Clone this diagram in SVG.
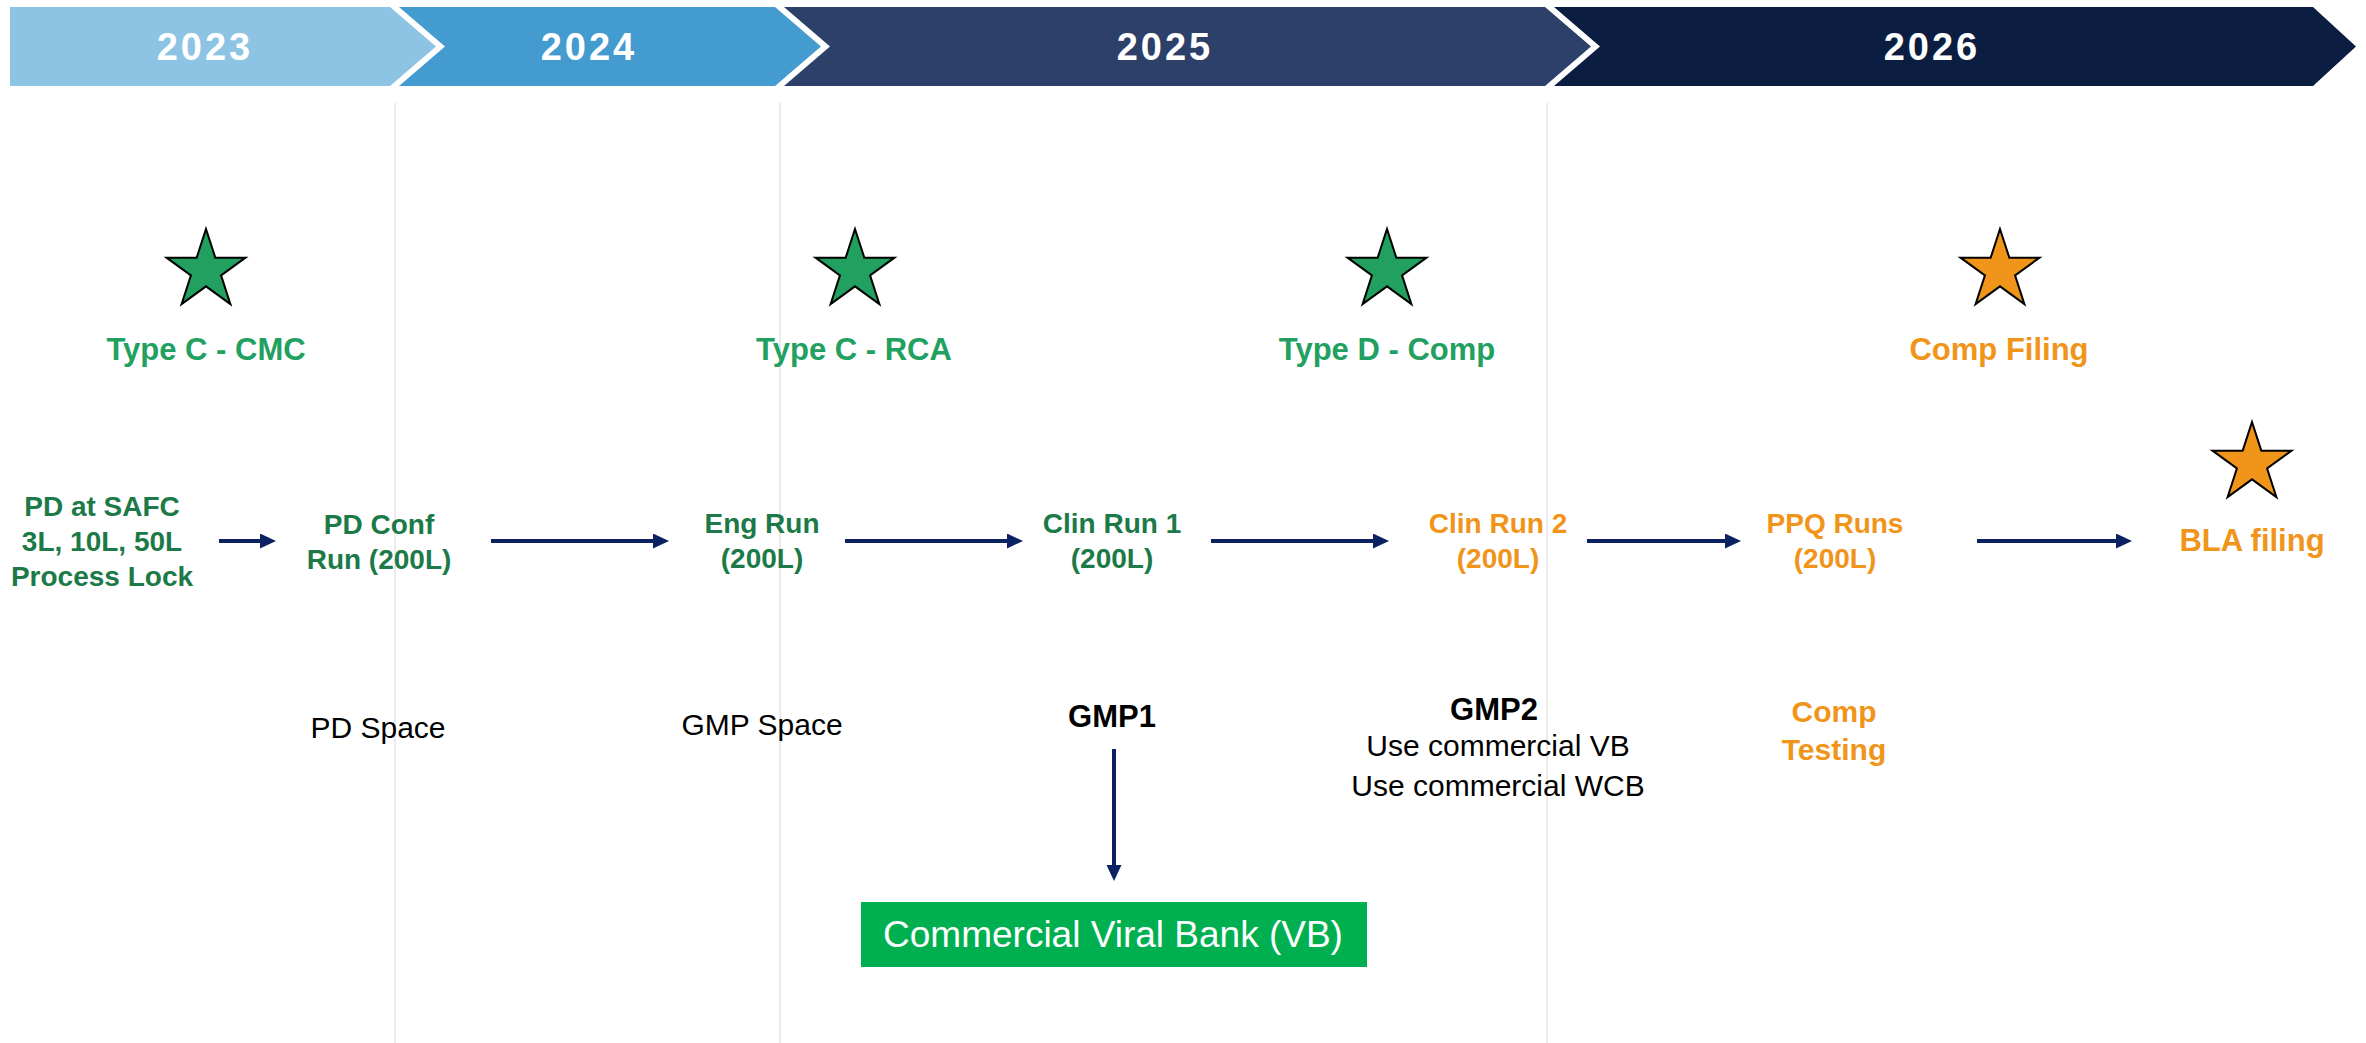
<svg xmlns="http://www.w3.org/2000/svg" width="2366" height="1043" viewBox="0 0 2366 1043">
  <style>
    .year { font-family: "Liberation Sans", Arial, sans-serif; font-weight: 700; font-size: 38px; fill: #ffffff; text-anchor: middle; letter-spacing: 3px; }
    .grid { stroke: #ebebeb; stroke-width: 2; }
    .star { stroke: #000000; stroke-width: 2; stroke-linejoin: miter; }
    .star-green { fill: #21a05f; }
    .star-orange { fill: #f0941a; }
    .ms { font-family: "Liberation Sans", Arial, sans-serif; font-weight: 700; font-size: 31px; text-anchor: middle; }
    .run { font-family: "Liberation Sans", Arial, sans-serif; font-weight: 700; font-size: 28px; text-anchor: middle; }
    .green-l { fill: #21a05f; }
    .green-d { fill: #1b7a48; }
    .orange { fill: #f0941a; }
    .note { font-family: "Liberation Sans", Arial, sans-serif; font-size: 30px; fill: #000000; text-anchor: middle; }
    .note-b { font-family: "Liberation Sans", Arial, sans-serif; font-weight: 700; font-size: 31px; fill: #000000; text-anchor: middle; }
    .conn { stroke: #0b2162; stroke-width: 4; fill: none; marker-end: url(#head); }
  </style>
  <defs>
    <marker id="head" markerUnits="userSpaceOnUse" markerWidth="18" markerHeight="16" refX="2" refY="7.5" orient="auto">
      <path d="M0,0 L16,7.5 L0,15 Z" fill="#0b2162"/>
    </marker>
    <path id="star" d="M0,-41.5 L9.32,-12.82 L39.47,-12.82 L15.07,4.9 L24.39,33.57 L0,15.85 L-24.39,33.57 L-15.07,4.9 L-39.47,-12.82 L-9.32,-12.82 Z"/>
  </defs>

  <rect width="2366" height="1043" fill="#ffffff"/>

  <!-- year banner -->
  <g id="banner">
    <polygon points="10,7 390,7 436,46.5 390,86 10,86" fill="#8dc3e3"/>
    <polygon points="399,7 775,7 821,46.5 775,86 399,86 445,46.5" fill="#439bd0"/>
    <polygon points="784,7 1545,7 1591,46.5 1545,86 784,86 830,46.5" fill="#2c4069"/>
    <polygon points="1554,7 2313,7 2356,46.5 2313,86 1554,86 1600,46.5" fill="#0b1d40"/>
    <text class="year" x="205" y="60">2023</text>
    <text class="year" x="589" y="60">2024</text>
    <text class="year" x="1165" y="60">2025</text>
    <text class="year" x="1932" y="60">2026</text>
  </g>

  <!-- year dividers -->
  <g id="dividers">
    <line class="grid" x1="395" y1="103" x2="395" y2="1043"/>
    <line class="grid" x1="780" y1="103" x2="780" y2="1043"/>
    <line class="grid" x1="1547" y1="103" x2="1547" y2="1043"/>
  </g>

  <!-- regulatory milestones -->
  <g id="ms-type-c-cmc">
    <use href="#star" class="star star-green" transform="translate(206,270.5)"/>
    <text class="ms green-l" x="206" y="360">Type C - CMC</text>
  </g>
  <g id="ms-type-c-rca">
    <use href="#star" class="star star-green" transform="translate(855,270.5)"/>
    <text class="ms green-l" x="854" y="360">Type C - RCA</text>
  </g>
  <g id="ms-type-d-comp">
    <use href="#star" class="star star-green" transform="translate(1387,270.5)"/>
    <text class="ms green-l" x="1387" y="360">Type D - Comp</text>
  </g>
  <g id="ms-comp-filing">
    <use href="#star" class="star star-orange" transform="translate(2000,270.5)"/>
    <text class="ms orange" x="1999" y="360">Comp Filing</text>
  </g>
  <g id="ms-bla-filing">
    <use href="#star" class="star star-orange" transform="translate(2252,463.5)"/>
    <text class="ms orange" x="2252" y="551">BLA filing</text>
  </g>

  <!-- process runs -->
  <g id="run-pd-safc">
    <text class="run green-d" x="102" y="516">PD at SAFC</text>
    <text class="run green-d" x="102" y="551">3L, 10L, 50L</text>
    <text class="run green-d" x="102" y="586">Process Lock</text>
  </g>
  <g id="run-pd-conf">
    <text class="run green-d" x="379" y="534">PD Conf</text>
    <text class="run green-d" x="379" y="569">Run (200L)</text>
  </g>
  <g id="run-eng">
    <text class="run green-d" x="762" y="533">Eng Run</text>
    <text class="run green-d" x="762" y="568">(200L)</text>
  </g>
  <g id="run-clin-1">
    <text class="run green-d" x="1112" y="533">Clin Run 1</text>
    <text class="run green-d" x="1112" y="568">(200L)</text>
  </g>
  <g id="run-clin-2">
    <text class="run orange" x="1498" y="533">Clin Run 2</text>
    <text class="run orange" x="1498" y="568">(200L)</text>
  </g>
  <g id="run-ppq">
    <text class="run orange" x="1835" y="533">PPQ Runs</text>
    <text class="run orange" x="1835" y="568">(200L)</text>
  </g>

  <!-- facility / cell bank notes -->
  <g id="note-pd-space">
    <text class="note" x="378" y="738">PD Space</text>
  </g>
  <g id="note-gmp-space">
    <text class="note" x="762" y="735">GMP Space</text>
  </g>
  <g id="note-gmp1">
    <text class="note-b" x="1112" y="727">GMP1</text>
  </g>
  <g id="note-gmp2">
    <text class="note-b" x="1494" y="720">GMP2</text>
    <text class="note" x="1498" y="756">Use commercial VB</text>
    <text class="note" x="1498" y="796">Use commercial WCB</text>
  </g>
  <g id="note-comp-testing">
    <text class="run orange" x="1834" y="722" style="font-size:30px">Comp</text>
    <text class="run orange" x="1834" y="760" style="font-size:30px">Testing</text>
  </g>
  <g id="viral-bank">
    <rect x="861" y="902" width="506" height="65" fill="#00b050"/>
    <text x="1113" y="947" font-family="Liberation Sans, Arial, sans-serif" font-size="37" fill="#ffffff" text-anchor="middle">Commercial Viral Bank (VB)</text>
  </g>

  <!-- connectors -->
  <g id="connectors">
    <line class="conn" x1="219" y1="541" x2="262" y2="541"/>
    <line class="conn" x1="491" y1="541" x2="655" y2="541"/>
    <line class="conn" x1="845" y1="541" x2="1009" y2="541"/>
    <line class="conn" x1="1211" y1="541" x2="1375" y2="541"/>
    <line class="conn" x1="1587" y1="541" x2="1727" y2="541"/>
    <line class="conn" x1="1977" y1="541" x2="2118" y2="541"/>
    <line class="conn" x1="1114" y1="749" x2="1114" y2="867"/>
  </g>
</svg>
